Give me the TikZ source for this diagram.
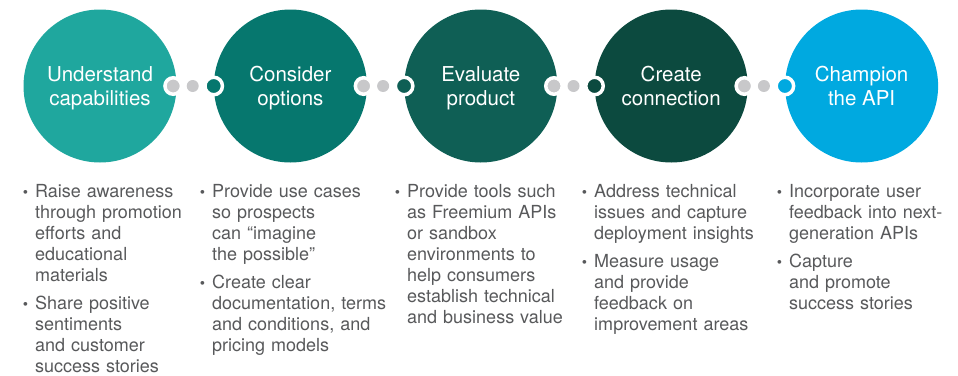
\documentclass[tikz,border=0pt]{standalone}
\usepackage{fontspec}
\setmainfont{TeX Gyre Heros}
\usetikzlibrary{positioning}
\definecolor{stepA}{HTML}{1FA79E}
\definecolor{stepB}{HTML}{06776E}
\definecolor{stepC}{HTML}{0F5F55}
\definecolor{stepD}{HTML}{0C4A3F}
\definecolor{stepE}{HTML}{00A9E0}
\definecolor{dotgray}{HTML}{C8C8CA}
\definecolor{txtgray}{HTML}{58595B}
\newcommand{\bul}{\leavevmode\llap{{\fontsize{15}{15}\selectfont\textbullet}\hspace{7pt}}}
\newcommand{\tophi}{\rule{0pt}{19.5pt}}
\newcommand{\botlo}{\rule[-5pt]{0pt}{5pt}}
\begin{document}
\begin{tikzpicture}[x=1pt, y=-1pt,
   stagenode/.style={circle, minimum size=153pt, inner sep=0pt, text=white, align=center, font=\fontsize{20.5}{24.5}\selectfont},
   ringdot/.style={circle, fill=dotgray, draw=white, line width=3.5pt, minimum size=16.5pt, inner sep=0pt},
   middot/.style={circle, fill=dotgray, minimum size=12pt, inner sep=0pt},
   bullets/.style={anchor=north west, inner sep=0pt, text width=185pt, align=left, text=txtgray, font=\fontsize{18}{21}\selectfont}]
   \useasboundingbox (0,0) rectangle (958,375);
   \foreach \col/\txt [count=\ni] in {stepA/{Understand\\capabilities}, stepB/{Consider\\options}, stepC/{Evaluate\\product}, stepD/{Create\\connection}, stepE/{Champion\\the API}}
      \node[stagenode, fill=\col] (s\ni) at ({100+190.4*(\ni-1)}, 86) {\tophi\txt\botlo};
   \foreach \i/\col [evaluate=\i as \j using int(\i+1)] in {1/stepB, 2/stepC, 3/stepD, 4/stepE} {
      \node[ringdot] (g\i) at ([xshift=-3.5pt]s\i.east) {};
      \node[middot] (m\i) at ([xshift=16pt]s\i.east) {};
      \node[ringdot, fill=\col, minimum size=17.5pt] (c\i) at (s\j.west) {};
   }
   \node[bullets] (t1) at (35,184) {\bul Raise awareness\\through promotion\\efforts and\\educational\\materials\par\vspace{7pt}
      \bul Share positive\\sentiments\\and customer\\success stories};
   \node[bullets] (t2) at (212,184) {\bul Provide use cases\\so prospects\\can “imagine\\the possible”\par\vspace{7pt}
      \bul Create clear\\documentation, terms\\and conditions, and\\pricing models};
   \node[bullets] (t3) at (407,184) {\bul Provide tools such\\as Freemium APIs\\or sandbox\\environments to\\help consumers\\establish technical\\and business value};
   \node[bullets] (t4) at (594,184) {\bul Address technical\\issues and capture\\deployment insights\par\vspace{7pt}
      \bul Measure usage\\and provide\\feedback on\\improvement areas};
   \node[bullets] (t5) at (789,184) {\bul Incorporate user\\feedback into next-\\generation APIs\par\vspace{7pt}
      \bul Capture\\and promote\\success stories};
\end{tikzpicture}
\end{document}
